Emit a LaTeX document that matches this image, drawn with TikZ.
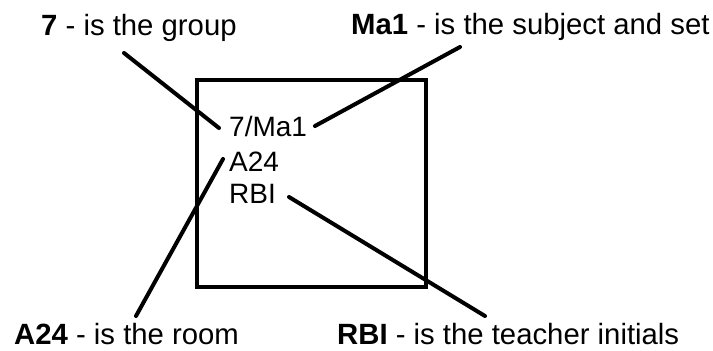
\documentclass[tikz,border=0pt]{standalone}
\usepackage{fontspec}
\setmainfont{Liberation Sans}
\begin{document}
\begin{tikzpicture}[x=1pt,y=1pt,
  lbl/.style={anchor=base west,inner sep=0pt,font=\fontsize{29.3}{34}\selectfont},
  inner/.style={anchor=base west,inner sep=0pt,font=\fontsize{28}{34}\selectfont},
  conn/.style={line width=4pt,line cap=round},
  boxline/.style={line width=4pt}]
\useasboundingbox (0,0) rectangle (713,351);
\draw[boxline] (197,271) rectangle (426,64);
\node[lbl] (grp) at (41,315) {\textbf{7} - is the group};
\node[lbl] (subj) at (351,316) {\textbf{Ma1} - is the subject and set};
\node[lbl] (room) at (14,6) {\textbf{A24} - is the room};
\node[lbl] (teach) at (337,6) {\textbf{RBI} - is the teacher initials};
\node[inner] (t1) at (229,214) {7/Ma1};
\node[inner] (t2) at (229,179) {A24};
\node[inner] (t3) at (229,147) {RBI};
\coordinate (a1) at (124,298);
\coordinate (b1) at (219,223);
\coordinate (a2) at (460,304);
\coordinate (b2) at (315,225);
\coordinate (a3) at (136,35);
\coordinate (b3) at (223,192);
\coordinate (a4) at (485,35);
\coordinate (b4) at (289,154);
\draw[conn] (a1) -- (b1);
\draw[conn] (a2) -- (b2);
\draw[conn] (a3) -- (b3);
\draw[conn] (a4) -- (b4);
\end{tikzpicture}
\end{document}
